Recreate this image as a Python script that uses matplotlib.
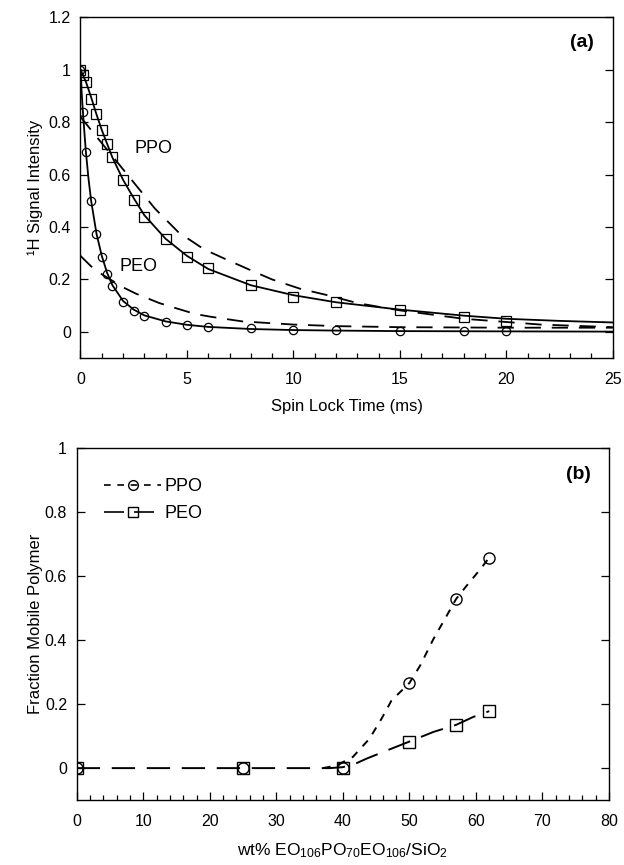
import matplotlib
matplotlib.use("Agg")
import matplotlib.pyplot as plt
from matplotlib.ticker import MultipleLocator

plt.rcParams['font.family'] = ['Liberation Sans', 'DejaVu Sans']
plt.rcParams['mathtext.fontset'] = 'custom'
plt.rcParams['mathtext.rm'] = 'Liberation Sans'
plt.rcParams['mathtext.it'] = 'Liberation Sans:italic'

# ---- panel (a): spin lock decay ----
t_pts = [0, 0.1, 0.25, 0.5, 0.75, 1, 1.25, 1.5, 2, 2.5, 3, 4, 5, 6, 8, 10, 12, 15, 18, 20]
ppo_pts = [1.0, 0.98, 0.955, 0.89, 0.83, 0.77, 0.715, 0.667, 0.58, 0.505, 0.44, 0.355,
           0.287, 0.242, 0.178, 0.135, 0.114, 0.083, 0.057, 0.042]
peo_pts = [1.0, 0.84, 0.687, 0.498, 0.372, 0.287, 0.221, 0.175, 0.115, 0.08, 0.061, 0.036,
           0.027, 0.02, 0.013, 0.008, 0.006, 0.004, 0.004, 0.004]

# fitted curves
ppo_fit_t = [0, 0.25, 0.5, 0.75, 1, 1.5, 2, 2.5, 3, 4, 5, 6, 8, 10, 12, 15, 18, 20, 22.5, 25]
ppo_fit = [1.0, 0.955, 0.895, 0.83, 0.77, 0.665, 0.58, 0.51, 0.445, 0.355, 0.29, 0.24,
           0.178, 0.14, 0.113, 0.085, 0.062, 0.05, 0.042, 0.036]
peo_fit_t = [0, 0.05, 0.1, 0.175, 0.25, 0.375, 0.5, 0.75, 1, 1.25, 1.5, 2, 2.5, 3, 4, 5, 6, 8,
             10, 12, 15, 20, 25]
peo_fit = [1.0, 0.92, 0.855, 0.77, 0.69, 0.585, 0.5, 0.375, 0.29, 0.225, 0.178, 0.118, 0.085,
           0.063, 0.04, 0.027, 0.019, 0.011, 0.007, 0.005, 0.003, 0.002, 0.001]

# single-component (dashed) curves
ppo_dash_t = [0, 0.3, 1, 2, 2.7, 3.5, 4.6, 5.8, 6.8, 8, 9, 10.3, 11.6, 13, 15, 18, 21.6, 25]
ppo_dash = [0.82, 0.79, 0.72, 0.62, 0.55, 0.47, 0.38, 0.315, 0.278, 0.235, 0.2, 0.165,
            0.14, 0.11, 0.082, 0.05, 0.028, 0.018]
peo_dash_t = [0, 0.5, 1, 2, 2.6, 3.7, 4.5, 5.4, 6.1, 7.6, 10, 12, 15, 20, 25]
peo_dash = [0.29, 0.25, 0.22, 0.17, 0.146, 0.11, 0.09, 0.068, 0.058, 0.04, 0.028, 0.022,
            0.018, 0.016, 0.016]

# ---- panel (b): fraction mobile ----
wt_pts = [0, 25, 40, 50, 57, 62]
ppo_frac = [0, 0, 0, 0.266, 0.528, 0.658]
peo_frac = [0, 0, 0, 0.083, 0.135, 0.178]

ppo_line_x = [37, 39, 41.5, 44, 45.8, 47.3, 50, 51.6, 53.6, 55.6, 57, 58.6, 60.6, 62]
ppo_line_y = [0, 0.008, 0.035, 0.092, 0.154, 0.211, 0.266, 0.32, 0.403, 0.476, 0.528, 0.57,
              0.62, 0.658]
peo_line_x = [0, 25, 38, 40, 42, 43.6, 46.6, 50, 53.6, 57, 59.6, 62]
peo_line_y = [0, 0, 0, 0.003, 0.015, 0.03, 0.055, 0.083, 0.113, 0.135, 0.16, 0.178]

fig = plt.figure(figsize=(6.24, 8.65), dpi=100)
ax1 = fig.add_axes([0.129, 0.586, 0.853, 0.394])
ax2 = fig.add_axes([0.123, 0.075, 0.853, 0.407])

# panel (a)
ax1.plot(ppo_fit_t, ppo_fit, color='black', lw=1.3)
ax1.plot(peo_fit_t, peo_fit, color='black', lw=1.3)
ax1.plot(ppo_dash_t, ppo_dash, color='black', lw=1.3, dashes=(9, 6))
ax1.plot(peo_dash_t, peo_dash, color='black', lw=1.3, dashes=(9, 6))
ax1.plot(t_pts, ppo_pts, ls='none', marker='s', ms=6.5, mfc='none', mec='black', mew=0.9)
ax1.plot(t_pts, peo_pts, ls='none', marker='o', ms=6, mfc='none', mec='black', mew=0.9)
ax1.text(2.55, 0.7, 'PPO', fontsize=13, va='center')
ax1.text(1.85, 0.25, 'PEO', fontsize=13, va='center')
ax1.text(0.965, 0.95, '(a)', transform=ax1.transAxes, fontsize=14, fontweight='bold',
         ha='right', va='top')
ax1.set_xlim(0, 25)
ax1.set_ylim(-0.1, 1.2)
ax1.xaxis.set_major_locator(MultipleLocator(5))
ax1.xaxis.set_minor_locator(MultipleLocator(1))
ax1.set_yticks([0, 0.2, 0.4, 0.6, 0.8, 1, 1.2])
ax1.set_yticklabels(['0', '0.2', '0.4', '0.6', '0.8', '1', '1.2'])
ax1.set_xlabel('Spin Lock Time (ms)', fontsize=12, labelpad=9)
ax1.set_ylabel('¹H Signal Intensity', fontsize=12)
ax1.yaxis.set_label_coords(-0.071, 0.5)

# panel (b)
ax2.plot(ppo_line_x, ppo_line_y, color='black', lw=1.4, dashes=(4, 4))
ax2.plot(peo_line_x, peo_line_y, color='black', lw=1.4, dashes=(12, 6))
ax2.plot(wt_pts, ppo_frac, ls='none', marker='o', ms=8, mfc='none', mec='black', mew=1.0)
ax2.plot(wt_pts, peo_frac, ls='none', marker='s', ms=8, mfc='none', mec='black', mew=1.0)
h1, = ax2.plot([], [], color='black', lw=1.2, dashes=(4, 4), marker='o', ms=7,
               mfc='none', mec='black')
h2, = ax2.plot([], [], color='black', lw=1.2, dashes=(12, 6), marker='s', ms=7,
               mfc='none', mec='black')
ax2.legend([h1, h2], ['PPO', 'PEO'], loc='upper left', frameon=False, fontsize=13,
           handlelength=3.2, handletextpad=0.15, labelspacing=0.55,
           bbox_to_anchor=(0.02, 0.96))
ax2.text(0.965, 0.95, '(b)', transform=ax2.transAxes, fontsize=14, fontweight='bold',
         ha='right', va='top')
ax2.set_xlim(0, 80)
ax2.set_ylim(-0.1, 1.0)
ax2.xaxis.set_major_locator(MultipleLocator(10))
ax2.xaxis.set_minor_locator(MultipleLocator(2))
ax2.set_yticks([0, 0.2, 0.4, 0.6, 0.8, 1])
ax2.set_yticklabels(['0', '0.2', '0.4', '0.6', '0.8', '1'])
ax2.set_xlabel('wt% EO$_{106}$PO$_{70}$EO$_{106}$/SiO$_2$', fontsize=12.5)
ax2.xaxis.set_label_coords(0.5, -0.118)
ax2.set_ylabel('Fraction Mobile Polymer', fontsize=12)
ax2.yaxis.set_label_coords(-0.064, 0.5)

for ax in (ax1, ax2):
    ax.tick_params(which='both', direction='in', right=True, top=False, labelsize=11.5)
    ax.tick_params(which='major', length=6, width=0.9)
    ax.tick_params(which='minor', length=3.5, width=0.9)
    ax.tick_params(axis='x', pad=10)
    ax.tick_params(axis='y', pad=7)
    ax.yaxis.set_minor_locator(plt.NullLocator())
    for s in ax.spines.values():
        s.set_linewidth(1.0)

fig.savefig('out.png', dpi=100)
